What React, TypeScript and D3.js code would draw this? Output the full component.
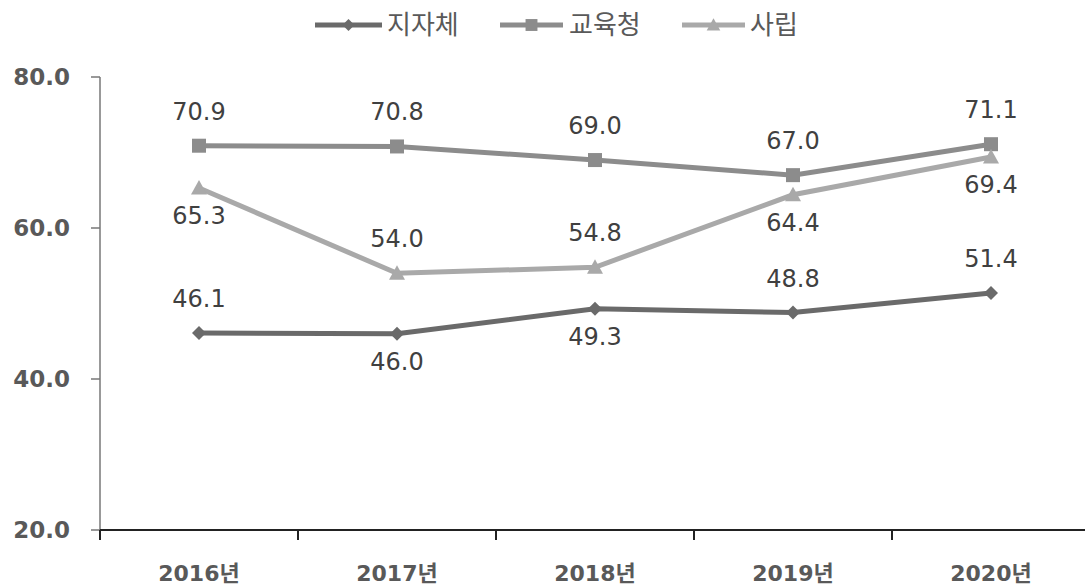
import React from "react";
import * as d3 from "d3";

const categories = ["2016년", "2017년", "2018년", "2019년", "2020년"];
const seriesNames = ["지자체", "교육청", "사립"];
const local = [46.1, 46.0, 49.3, 48.8, 51.4];
const office = [70.9, 70.8, 69.0, 67.0, 71.1];
const priv = [65.3, 54.0, 54.8, 64.4, 69.4];
const localPos = ["above", "below", "below", "above", "above"];
const officePos = ["above", "above", "above", "above", "above"];
const privPos = ["below", "above", "above", "below", "below"];
const yTicks = [20, 40, 60, 80];

const W = 1085, H = 588;
const FONT = "'DejaVu Sans', 'Noto Sans CJK KR', sans-serif";

export default function App() {
  const x0 = 100, bandW = 198;
  const x = d3.scaleBand<string>().domain(categories).range([x0, x0 + bandW * 5]);
  const y = d3.scaleLinear().domain([20, 80]).range([530, 77]);
  const cx = (c: string) => (x(c) as number) + x.bandwidth() / 2;
  const line = d3.line<number>().x((_, i) => cx(categories[i])).y((d) => y(d));

  const series = [
    { name: seriesNames[0], data: local, pos: localPos, color: "#6a6a6a", marker: "diamond" },
    { name: seriesNames[1], data: office, pos: officePos, color: "#8c8c8c", marker: "square" },
    { name: seriesNames[2], data: priv, pos: privPos, color: "#a9a9a9", marker: "triangle" },
  ];

  const marker = (m: string, px: number, py: number, color: string, k: number, sc = 1) => {
    if (m === "diamond") {
      const s = 7 * sc;
      return <path key={k} d={`M${px},${py - s}L${px + s},${py}L${px},${py + s}L${px - s},${py}Z`} fill={color} />;
    }
    if (m === "square") {
      const s = 7 * sc;
      return <rect key={k} x={px - s} y={py - s} width={2 * s} height={2 * s} fill={color} />;
    }
    const s = 8 * sc;
    return <path key={k} d={`M${px},${py - s}L${px + s},${py + s * 0.8}L${px - s},${py + s * 0.8}Z`} fill={color} />;
  };

  const legendItems = [
    { x1: 315, x2: 382, tx: 387 },
    { x1: 500, x2: 563, tx: 569 },
    { x1: 682, x2: 745, tx: 750 },
  ];

  return (
    <svg width={W} height={H} style={{ position: "absolute", left: 0, top: 0, background: "#fff" }}>
      {/* legend */}
      {series.map((s, i) => {
        const li = legendItems[i];
        const mx = (li.x1 + li.x2) / 2;
        return (
          <g key={s.name}>
            <line x1={li.x1} x2={li.x2} y1={25} y2={25} stroke={s.color} strokeWidth={5} />
            {marker(s.marker, mx, 25, s.color, 0, 0.85)}
            <text x={li.tx} y={34} fontFamily={FONT} fontSize={26} fill="#595959">{s.name}</text>
          </g>
        );
      })}
      {/* y axis */}
      <line x1={x0} x2={x0} y1={y(80)} y2={y(20)} stroke="#777" strokeWidth={1.5} />
      {yTicks.map((t) => (
        <g key={t}>
          <line x1={x0 - 9} x2={x0} y1={y(t)} y2={y(t)} stroke="#777" strokeWidth={1.5} />
          <text x={70} y={y(t) + 8} textAnchor="end" fontFamily={FONT} fontWeight="bold" fontSize={23} fill="#595959">
            {t.toFixed(1)}
          </text>
        </g>
      ))}
      {/* x axis */}
      <line x1={x0} x2={W} y1={y(20)} y2={y(20)} stroke="#222" strokeWidth={2} />
      {d3.range(6).map((i) => (
        <line key={i} x1={x0 + i * bandW} x2={x0 + i * bandW} y1={y(20)} y2={y(20) + 10} stroke="#222" strokeWidth={2} />
      ))}
      {categories.map((c) => (
        <text key={c} x={cx(c)} y={581} textAnchor="middle" fontFamily={FONT} fontWeight="bold" fontSize={22} fill="#595959">
          {c}
        </text>
      ))}
      {/* series */}
      {series.map((s) => (
        <g key={s.name}>
          <path d={line(s.data) as string} fill="none" stroke={s.color} strokeWidth={5} />
          {s.data.map((v, i) => marker(s.marker, cx(categories[i]), y(v), s.color, i))}
          {s.data.map((v, i) => (
            <text
              key={"t" + i}
              x={cx(categories[i])}
              y={s.pos[i] === "above" ? y(v) - 26 : y(v) + 36}
              textAnchor="middle"
              fontFamily={FONT}
              fontSize={24}
              fill="#404040"
            >
              {v.toFixed(1)}
            </text>
          ))}
        </g>
      ))}
    </svg>
  );
}
